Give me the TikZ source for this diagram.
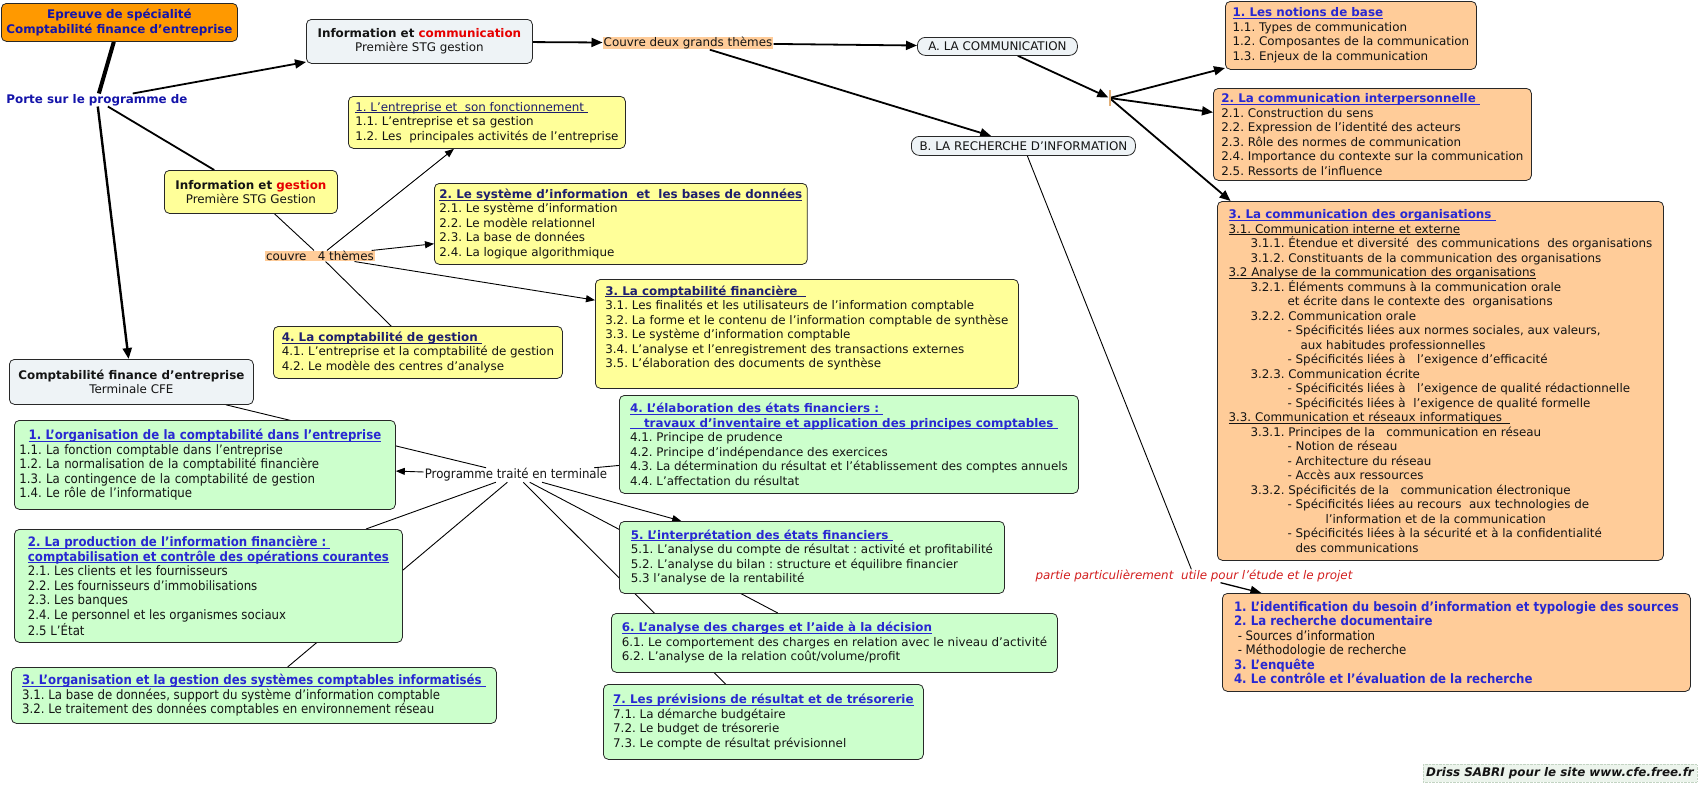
\documentclass[tikz,border=0pt]{standalone}
\usepackage{fontspec}
\setmainfont{DejaVu Sans}
\newfontfamily\tahomalike[FakeStretch=0.905]{DejaVu Sans}
\usetikzlibrary{arrows.meta,backgrounds}

\definecolor{peach}{RGB}{255,204,153}
\definecolor{orangebox}{RGB}{255,153,0}
\definecolor{lgray}{RGB}{238,243,246}
\definecolor{lyellow}{RGB}{255,255,153}
\definecolor{lgreen}{RGB}{204,255,204}
\definecolor{tblue}{RGB}{40,40,210}
\definecolor{navy}{RGB}{30,30,110}
\definecolor{dblue}{RGB}{20,20,170}
\definecolor{cmred}{RGB}{230,0,0}
\definecolor{partred}{RGB}{210,30,30}
\definecolor{boxline}{RGB}{40,40,40}
\definecolor{txt}{RGB}{20,20,20}
\definecolor{ticktan}{RGB}{225,175,120}
\definecolor{signbg}{RGB}{236,244,236}
\definecolor{signline}{RGB}{195,212,195}

\newcommand\fverd{\fontsize{11.9}{14.5}\selectfont\frenchspacing}
\newcommand\ftaho{\tahomalike\fontsize{13}{14.5}\selectfont\frenchspacing}
\newcommand\ulin[1]{\setbox0=\hbox{#1}\leavevmode\rlap{\rule[-1.8pt]{\wd0}{0.7pt}}\box0}
\newcommand\otitle[1]{\textcolor{tblue}{\ulin{\textbf{#1}}}}
\newcommand\ytitle[1]{\textcolor{navy}{\ulin{\textbf{#1}}}}

\tikzset{
  concept/.style={draw=boxline, line width=0.8pt, rounded corners=5pt, anchor=north west,
    align=left, inner xsep=5pt, inner ysep=0pt, text=txt, font=\fverd},
  cbox/.style={concept, fill=lgray, align=center},
  obox/.style={concept, fill=peach},
  ybox/.style={concept, fill=lyellow},
  gbox/.style={concept, fill=lgreen},
  gtbox/.style={concept, fill=lgreen, font=\ftaho},
  phrase/.style={inner xsep=1pt, inner ysep=0.5pt, text=txt, font=\fverd},
  phrasebg/.style={phrase, fill=peach},
  >={Triangle[length=11pt,width=9pt]},
  conn/.style={line width=1.8pt},
  thinconn/.style={line width=0.9pt, >={Triangle[length=9pt,width=7pt]}}
}

\begin{document}
\begin{tikzpicture}[x=1pt,y=-1pt]
\useasboundingbox (0,0) rectangle (1707,787);

\node[cbox, fill=orangebox, text=dblue, font=\fverd\bfseries, minimum width=235pt, minimum height=38pt] (epreuve) at (1,3) {Epreuve de spécialité\\Comptabilité finance d'entreprise};
\node[phrase, text=dblue, font=\fverd\bfseries] (porte) at (97,100) {Porte sur le programme de};
\node[cbox, minimum width=226pt, minimum height=44pt] (infocom) at (306,19) {\textbf{Information et \textcolor{cmred}{communication}}\\Première STG gestion};
\node[phrasebg] (couvre) at (688,43) {Couvre deux grands thèmes};
\node[cbox, rounded corners=8pt, minimum width=160pt, minimum height=18pt] (comA) at (917,37) {A. LA COMMUNICATION};
\node[cbox, rounded corners=8pt, minimum width=224pt, minimum height=19pt] (comB) at (911,136) {B. LA RECHERCHE D’INFORMATION};
\node[fill=ticktan, minimum width=2pt, minimum height=16pt, inner sep=0pt] (jonction) at (1109.5,98) {};

\node[obox, minimum width=251pt, minimum height=68pt] (notions) at (1225,1) {\otitle{1. Les notions de base}\\1.1. Types de communication\\1.2. Composantes de la communication\\1.3. Enjeux de la communication};
\node[obox, minimum width=318pt, minimum height=92pt] (interpers) at (1213,88) {\otitle{2. La communication interpersonnelle\ }\\2.1. Construction du sens\\2.2. Expression de l’identité des acteurs\\2.3. Rôle des normes de communication\\2.4. Importance du contexte sur la communication\\2.5. Ressorts de l’influence};
\node[obox, minimum width=446pt, minimum height=359pt] (organis) at (1217,201) {\otitle{3. La communication des organisations\ }\\
\ulin{3.1. Communication interne et externe}\\
\hspace*{22pt}3.1.1. Étendue et diversité\ \ des communications\ \ des organisations\\
\hspace*{22pt}3.1.2. Constituants de la communication des organisations\\
\ulin{3.2 Analyse de la communication des organisations}\\
\hspace*{22pt}3.2.1. Éléments communs à la communication orale\\
\hspace*{59pt}et écrite dans le contexte des\ \ organisations\\
\hspace*{22pt}3.2.2. Communication orale\\
\hspace*{59pt}- Spécificités liées aux normes sociales, aux valeurs,\\
\hspace*{72pt}aux habitudes professionnelles\\
\hspace*{59pt}- Spécificités liées à\ \ \ l’exigence d’efficacité\\
\hspace*{22pt}3.2.3. Communication écrite\\
\hspace*{59pt}- Spécificités liées à\ \ \ l’exigence de qualité rédactionnelle\\
\hspace*{59pt}- Spécificités liées à\ \ l’exigence de qualité formelle\\
\ulin{3.3. Communication et réseaux informatiques\ \ }\\
\hspace*{22pt}3.3.1. Principes de la\ \ \ communication en réseau\\
\hspace*{59pt}- Notion de réseau\\
\hspace*{59pt}- Architecture du réseau\\
\hspace*{59pt}- Accès aux ressources\\
\hspace*{22pt}3.3.2. Spécificités de la\ \ \ communication électronique\\
\hspace*{59pt}- Spécificités liées au recours\ \ aux technologies de\\
\hspace*{97pt}l’information et de la communication\\
\hspace*{59pt}- Spécificités liées à la sécurité et à la confidentialité\\
\hspace*{67pt}des communications};
\node[obox, font=\ftaho, minimum width=468pt, minimum height=98pt] (recherche) at (1222,593) {\textcolor{tblue}{\textbf{1. L’identification du besoin d’information et typologie des sources}}\\
\textcolor{tblue}{\textbf{2. La recherche documentaire}}\\
\ - Sources d’information\\
\ - Méthodologie de recherche\\
\textcolor{tblue}{\textbf{3. L’enquête}}\\
\textcolor{tblue}{\textbf{4. Le contrôle et l’évaluation de la recherche}}};
\node[phrase, text=partred, font=\fverd\itshape] (partie) at (1194,576) {partie particulièrement\ \ utile pour l'étude et le projet};
\node[phrase, fill=signbg, draw=signline, densely dotted, font=\fverd\bfseries\itshape, inner sep=3pt] (signature) at (1560,773) {Driss SABRI pour le site www.cfe.free.fr};

\node[ybox, minimum width=277pt, minimum height=52pt] (entreprise) at (348,96) {\textcolor{navy}{\ulin{1. L'entreprise et\ \ son fonctionnement\ }}\\1.1. L'entreprise et sa gestion\\1.2. Les\ \ principales activités de l'entreprise};
\node[cbox, fill=lyellow, minimum width=173pt, minimum height=43pt] (infoges) at (164,170) {\textbf{Information et \textcolor{cmred}{gestion}}\\Première STG Gestion};
\node[ybox, minimum width=369pt, minimum height=81pt] (sysinfo) at (434,183) {\ytitle{2. Le système d’information\ \ et\ \ les bases de données}\\2.1. Le système d'information\\2.2. Le modèle relationnel\\2.3. La base de données\\2.4. La logique algorithmique};
\node[phrasebg] (quatre) at (320,256) {couvre\ \ \ 4 thèmes};
\node[ybox, minimum width=423pt, minimum height=109pt] (comptafin) at (595,279) {\ytitle{3. La comptabilité financière\ \ }\\3.1. Les finalités et les utilisateurs de l’information comptable\\3.2. La forme et le contenu de l’information comptable de synthèse\\3.3. Le système d’information comptable\\3.4. L’analyse et l’enregistrement des transactions externes\\3.5. L’élaboration des documents de synthèse\\\mbox{}};
\node[ybox, minimum width=289pt, minimum height=52pt] (comptages) at (273,326) {\ytitle{4. La comptabilité de gestion\ }\\4.1. L'entreprise et la comptabilité de gestion\\4.2. Le modèle des centres d’analyse};

\node[cbox, minimum width=244pt, minimum height=45pt] (cfe) at (9,359) {\textbf{Comptabilité finance d'entreprise}\\Terminale CFE};
\node[gtbox, text width=371pt, minimum height=89pt] (organcpt) at (14,420) {\makebox[\hsize][c]{\otitle{1. L’organisation de la comptabilité dans l’entreprise}}\\1.1. La fonction comptable dans l’entreprise\\1.2. La normalisation de la comptabilité financière\\1.3. La contingence de la comptabilité de gestion\\1.4. Le rôle de l’informatique};
\node[gtbox, minimum width=388pt, minimum height=113pt] (prodinfo) at (14,529) {\otitle{2. La production de l’information financière :\ }\\\otitle{comptabilisation et contrôle des opérations courantes}\\2.1. Les clients et les fournisseurs\\2.2. Les fournisseurs d’immobilisations\\2.3. Les banques\\2.4. Le personnel et les organismes sociaux\\2.5 L’État};
\node[gtbox, minimum width=485pt, minimum height=56pt] (syscpt) at (11,667) {\otitle{3. L’organisation et la gestion des systèmes comptables informatisés\ }\\3.1. La base de données, support du système d’information comptable\\3.2. Le traitement des données comptables en environnement réseau};
\node[phrase, font=\ftaho] (programme) at (516,475) {Programme traité en terminale};
\node[gbox, minimum width=459pt, minimum height=98pt] (etatsfin) at (619,395) {\otitle{4. L’élaboration des états financiers :\ }\\\otitle{\hspace*{14pt}travaux d’inventaire et application des principes comptables\ }\\4.1. Principe de prudence\\4.2. Principe d’indépendance des exercices\\4.3. La détermination du résultat et l’établissement des comptes annuels\\4.4. L’affectation du résultat};
\node[gbox, minimum width=385pt, minimum height=72pt] (interpret) at (619,521) {\otitle{5. L’interprétation des états financiers\ }\\5.1. L’analyse du compte de résultat : activité et profitabilité\\5.2. L’analyse du bilan : structure et équilibre financier\\5.3 l’analyse de la rentabilité};
\node[gbox, minimum width=446pt, minimum height=59pt] (charges) at (611,613) {\otitle{6. L’analyse des charges et l’aide à la décision}\\6.1. Le comportement des charges en relation avec le niveau d’activité\\6.2. L’analyse de la relation coût/volume/profit};
\node[gbox, minimum width=320pt, minimum height=75pt] (previsions) at (603,684) {\otitle{7. Les prévisions de résultat et de trésorerie}\\7.1. La démarche budgétaire\\7.2. Le budget de trésorerie\\7.3. Le compte de résultat prévisionnel};

\begin{scope}[on background layer]
\draw[line width=4pt] (epreuve) -- (porte);
\draw[conn, ->] (porte) -- (infocom);
\draw[conn] (porte) -- (infoges);
\draw[conn, line width=2.4pt, ->] (porte) -- (cfe);
\draw[conn, ->] (infocom) -- (couvre);
\draw[conn, ->] (couvre) -- (comA);
\draw[conn, ->] (couvre) -- (comB);
\draw[conn, ->] (comA) -- (jonction);
\foreach \cible in {notions,interpers,organis}
  \draw[conn, ->] (jonction) -- (\cible);
\draw[thinconn] (comB) -- (partie);
\draw[conn, line width=1.3pt, ->] (partie) -- (recherche);
\draw[thinconn] (infoges) -- (quatre);
\foreach \cible in {entreprise,sysinfo,comptafin}
  \draw[thinconn, ->] (quatre) -- (\cible);
\draw[thinconn] (quatre) -- (comptages);
\draw[thinconn] (cfe) -- (programme);
\foreach \cible in {prodinfo,syscpt,etatsfin,charges,previsions}
  \draw[thinconn] (programme) -- (\cible);
\foreach \cible in {organcpt,interpret}
  \draw[thinconn, ->] (programme) -- (\cible);
\end{scope}
\end{tikzpicture}
\end{document}
